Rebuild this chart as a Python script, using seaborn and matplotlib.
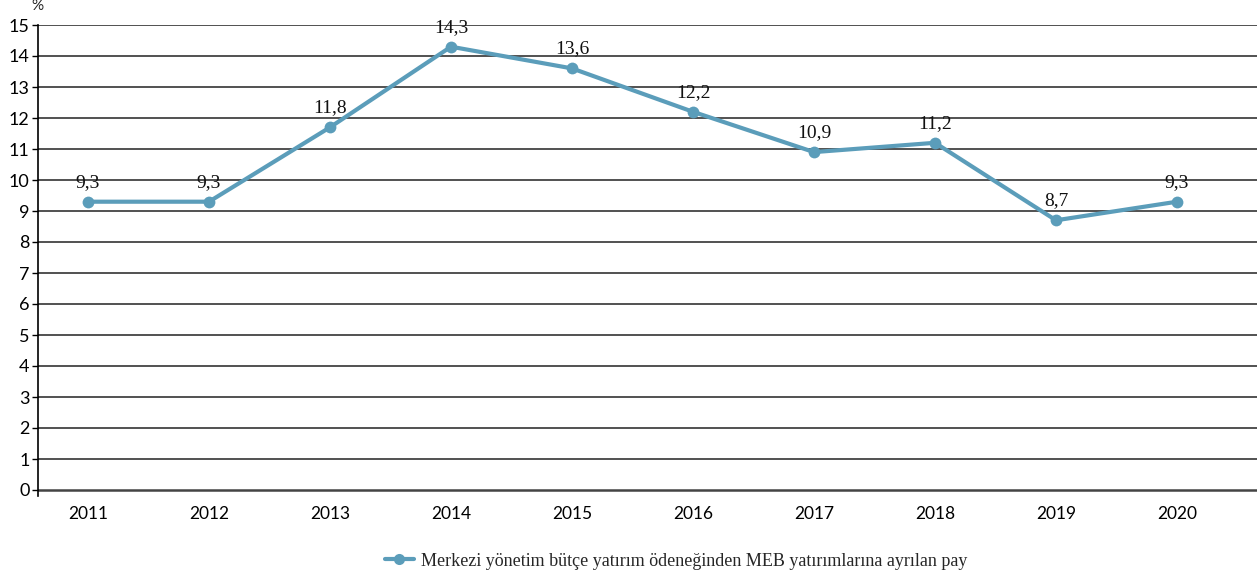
import matplotlib
matplotlib.use("Agg")
import matplotlib.pyplot as plt
import seaborn as sns
import pandas as pd

years = ["2011", "2012", "2013", "2014", "2015", "2016", "2017", "2018", "2019", "2020"]
values = [9.3, 9.3, 11.7, 14.3, 13.6, 12.2, 10.9, 11.2, 8.7, 9.3]
labels = ["9,3", "9,3", "11,8", "14,3", "13,6", "12,2", "10,9", "11,2", "8,7", "9,3"]
series_name = "Merkezi yönetim bütçe yatırım ödeneğinden MEB yatırımlarına ayrılan pay"
yticks = list(range(0, 16))

sns.set_theme(style="white")
plt.rcParams['font.family'] = ['Lato', 'DejaVu Sans']

df = pd.DataFrame({"x": range(len(years)), "y": values, "s": series_name})

fig = plt.figure(figsize=(12.57, 5.78), dpi=100)
y0, y15 = 490, 25
ppu = (y0 - y15) / 15
ax = fig.add_axes([38/1257, (578 - (y0 + 0.2*ppu))/578, 1 - 38/1257, (y0 + 0.2*ppu - y15)/578])

color = "#5b9dba"
sns.lineplot(data=df, x="x", y="y", hue="s", palette=[color], marker="o",
             markersize=8.5, markeredgewidth=0, linewidth=3, ax=ax, legend=False)

for i, (v, t) in enumerate(zip(values, labels)):
    ax.text(i, v + 0.35, t, ha="center", va="bottom", fontsize=14,
            family=["Liberation Serif", "DejaVu Serif"], color="#111111")

ax.set_xlim(-50/121, 9 + 80/121)
ax.set_ylim(-0.2, 15)
ax.set_yticks(yticks)
ax.set_yticklabels([str(t) for t in yticks], fontsize=13)
ax.set_xticks(range(len(years)))
ax.set_xticklabels(years, fontsize=12.5)
for y in yticks:
    ax.axhline(y, color="#333333" if y != 0 else "#444444", linewidth=1.2 if y != 0 else 1.8, zorder=0)
ax.tick_params(axis="y", which="both", left=True, length=4, width=1, color="black", pad=2, labelcolor="black")
ax.tick_params(axis="x", bottom=False, pad=1, labelcolor="black")
for s in ["top", "right", "bottom"]:
    ax.spines[s].set_visible(False)
ax.spines["left"].set_color("black")
ax.spines["left"].set_linewidth(1.2)
ax.set_xlabel("")
ax.set_ylabel("")
fig.text(37/1257, 1 - 6/578, "%", ha="center", va="center", fontsize=11)

from matplotlib.lines import Line2D
h = Line2D([], [], color=color, marker="o", markersize=8, markeredgewidth=0, linewidth=3)
fig.legend([h], [series_name], loc="center", bbox_to_anchor=(676/1257, 1 - 561/578),
           frameon=False, prop={"family": ["Liberation Serif", "DejaVu Serif"], "size": 13},
           handlelength=1.6, handletextpad=0.4)

fig.savefig("out.png", dpi=100)
